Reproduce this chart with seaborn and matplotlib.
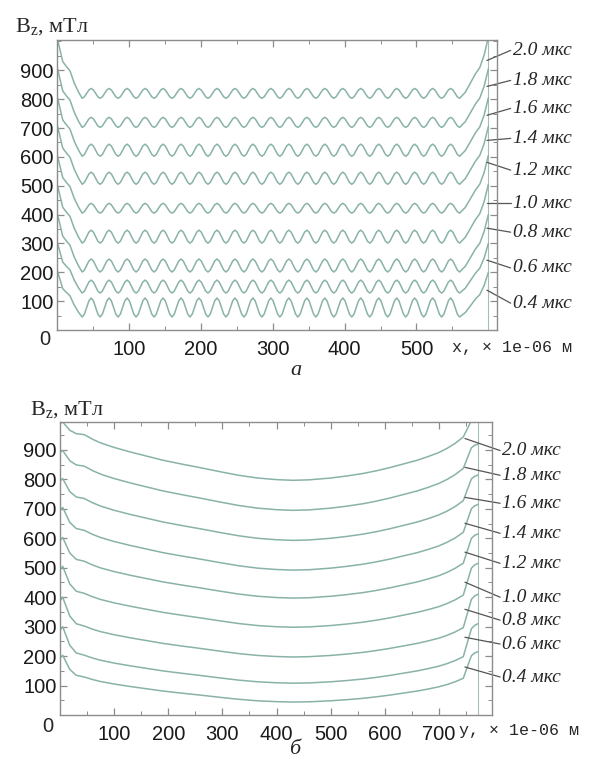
import numpy as np
import pandas as pd
import matplotlib
matplotlib.use('Agg')
import matplotlib.pyplot as plt
import seaborn as sns
from matplotlib.ticker import MultipleLocator

# ---------------- data ----------------
times = ['0.4', '0.6', '0.8', '1.0', '1.2', '1.4', '1.6', '1.8', '2.0']
labels = [t + ' мкс' for t in times]

# panel а : B_z(x) — ripple troughs / peaks and edge values, мТл
trough_a = [45, 128, 201, 301, 405, 505, 602, 702, 803]
peak_a = [111, 173, 246, 346, 439, 547, 644, 737, 837]
start_a = [209, 307, 408, 508, 610, 714, 812, 913, 1015]
end_a = [200, 300, 400, 505, 605, 705, 805, 905, 1015]
ripple_x_a = np.arange(35, 560.1, 3.125)           # sample positions along the ripple, µm
ripple_shape = [0.0, 0.15, 0.5, 0.85, 1.0, 0.85, 0.5, 0.15]   # one ripple period (fraction trough→peak)
left_x_a = [0, 3, 8, 13, 18, 24, 30]
left_f_a = [1.0, 0.85, 0.6, 0.52, 0.45, 0.25, 0.1]
right_x_a = [568, 575, 582, 588, 594, 600]
right_f_a = [0.1, 0.25, 0.4, 0.5, 0.7, 1.0]
label_y_a = [93, 215, 339, 439, 554, 664, 768, 865, 969]
leader_y_a = [138, 242, 353, 439, 581, 657, 744, 844, 934]

# panel б : B_z(y)
min_b = [44, 108, 197, 298, 397, 492, 593, 695, 797]
depth_b = [85, 95, 105, 115, 125, 135, 142, 150, 155]
start_b = [203, 300, 400, 505, 603, 705, 803, 898, 995]
end_b = [215, 310, 410, 515, 615, 715, 815, 920, 1010]
prof_x_b = [45, 60, 75, 100, 130, 160, 190, 225, 260, 295, 330, 365, 400, 430,
            460, 500, 530, 560, 585, 610, 635, 660, 680, 700, 715, 730, 745]
prof_p_b = [1.0, 0.90, 0.82, 0.72, 0.62, 0.53, 0.44, 0.355, 0.275, 0.19, 0.11, 0.05, 0.015, 0.0,
            0.01, 0.05, 0.095, 0.15, 0.21, 0.28, 0.36, 0.44, 0.52, 0.61, 0.70, 0.81, 0.95]
left_x_b = [1, 5, 10, 18, 30]
left_f_b = [0.9, 1.0, 0.75, 0.35, 0.08]
right_x_b = [752, 760, 766, 772]
right_f_b = [0.4, 0.85, 0.95, 1.0]
label_y_b = [129, 241, 322, 400, 515, 617, 719, 814, 898]
leader_y_b = [163, 264, 359, 451, 553, 651, 739, 841, 939]

# ---------------- build tables ----------------
rows_a = []
for i, t in enumerate(times):
    for xx, f in zip(left_x_a, left_f_a):
        rows_a.append((t, xx, trough_a[i] + f * (start_a[i] - trough_a[i])))
    for k, xx in enumerate(ripple_x_a):
        f = ripple_shape[k % len(ripple_shape)]
        rows_a.append((t, xx, trough_a[i] + f * (peak_a[i] - trough_a[i])))
    for xx, f in zip(right_x_a, right_f_a):
        rows_a.append((t, xx, trough_a[i] + f * (end_a[i] - trough_a[i])))
dfa = pd.DataFrame(rows_a, columns=['t', 'x', 'B'])

rows_b = []
for i, t in enumerate(times):
    top = min_b[i] + depth_b[i]
    for xx, f in zip(left_x_b, left_f_b):
        rows_b.append((t, xx, top + f * (start_b[i] - top)))
    for xx, p in zip(prof_x_b, prof_p_b):
        rows_b.append((t, xx, min_b[i] + p * depth_b[i]))
    last = min_b[i] + prof_p_b[-1] * depth_b[i]
    for xx, f in zip(right_x_b, right_f_b):
        rows_b.append((t, xx, last + f * (end_b[i] - last)))
dfb = pd.DataFrame(rows_b, columns=['t', 'y', 'B'])

# ---------------- style ----------------
sns.set_style('ticks')
plt.rcParams['font.family'] = ['Liberation Sans', 'DejaVu Sans']
plt.rcParams['mathtext.fontset'] = 'custom'
plt.rcParams['mathtext.rm'] = 'Liberation Serif'
plt.rcParams['mathtext.it'] = 'Liberation Serif'

W, H = 591, 765
fig = plt.figure(figsize=(W / 100, H / 100), dpi=100)
fig.patch.set_facecolor('white')

curve_col = '#89b2a9'
spine_col = '#8c8c8c'
pal = [curve_col] * len(times)


def px(x, y):
    return x / W, 1 - y / H


def style_axes(ax, xmaj, ymaj):
    for s in ax.spines.values():
        s.set_color(spine_col)
        s.set_linewidth(1.0)
    ax.xaxis.set_major_locator(MultipleLocator(xmaj))
    ax.xaxis.set_minor_locator(MultipleLocator(xmaj / 2))
    ax.yaxis.set_major_locator(MultipleLocator(ymaj))
    ax.yaxis.set_minor_locator(MultipleLocator(ymaj / 2))
    ax.tick_params(which='both', direction='in', top=True, right=True,
                   color=spine_col, labelsize=14.5, labelcolor='#1a1a1a')
    ax.tick_params(which='major', length=5, width=0.9)
    ax.tick_params(which='minor', length=3, width=0.7)
    ax.tick_params(axis='x', pad=7)
    ax.tick_params(axis='y', pad=2.5)
    ax.set_xlabel('')
    ax.set_ylabel('')


# ---- panel а ----
l, b = px(57, 330)
r, t = px(497, 40)
axa = fig.add_axes([l, b, r - l, t - b])
sns.lineplot(data=dfa, x='x', y='B', hue='t', palette=pal, estimator=None,
             sort=False, legend=False, ax=axa, lw=1.1)
axa.set_xlim(0, 612)
axa.set_ylim(0, 1005)
axa.axvline(600, color='#a9bcb8', lw=0.8, zorder=1)
style_axes(axa, 100, 100)
axa.set_xticks([100, 200, 300, 400, 500])
axa.set_yticks([100, 200, 300, 400, 500, 600, 700, 800, 900])
axa.annotate('0', xy=(0, 0), xycoords='axes fraction', xytext=(-9, -7),
             textcoords='offset points', ha='center', va='center', fontsize=14.5)
for lab, ly, sy in zip(labels, label_y_a, leader_y_a):
    axa.plot([598, 631], [sy, ly], color='#555555', lw=0.9, clip_on=False)
    axa.text(634, ly, lab, ha='left', va='center', fontsize=14,
             family='Liberation Serif', style='italic', clip_on=False)

# ---- panel б ----
l, b = px(60, 715)
r, t = px(492, 422)
axb = fig.add_axes([l, b, r - l, t - b])
sns.lineplot(data=dfb, x='y', y='B', hue='t', palette=pal, estimator=None,
             sort=False, legend=False, ax=axb, lw=1.1)
axb.set_xlim(0, 798)
axb.set_ylim(0, 995)
axb.axvline(772, color='#a9bcb8', lw=0.8, zorder=1)
style_axes(axb, 100, 100)
axb.set_xticks([100, 200, 300, 400, 500, 600, 700])
axb.set_yticks([100, 200, 300, 400, 500, 600, 700, 800, 900])
axb.annotate('0', xy=(0, 0), xycoords='axes fraction', xytext=(-9, -8),
             textcoords='offset points', ha='center', va='center', fontsize=14.5)
for lab, ly, sy in zip(labels, label_y_b, leader_y_b):
    axb.plot([748, 813], [sy, ly], color='#555555', lw=0.9, clip_on=False)
    axb.text(816, ly, lab, ha='left', va='center', fontsize=14,
             family='Liberation Serif', style='italic', clip_on=False)

# ---- axis titles and panel letters ----
fig.text(*px(15, 32), r'B$_\mathrm{z}$, мТл', fontsize=16, family='Liberation Serif',
         ha='left', va='baseline')
fig.text(*px(30, 415), r'B$_\mathrm{z}$, мТл', fontsize=16, family='Liberation Serif',
         ha='left', va='baseline')
fig.text(*px(452, 348), 'x, × 1e-06 м', fontsize=12, family='Liberation Mono',
         ha='left', va='center')
fig.text(*px(459, 730), 'y, × 1e-06 м', fontsize=12, family='Liberation Mono',
         ha='left', va='center')
fig.text(*px(296, 370), 'а', fontsize=16, family='Liberation Serif', style='italic',
         ha='center', va='center')
fig.text(*px(295, 750), 'б', fontsize=16, family='Liberation Serif', style='italic',
         ha='center', va='center')

fig.savefig('out.png', dpi=100, facecolor='white')
